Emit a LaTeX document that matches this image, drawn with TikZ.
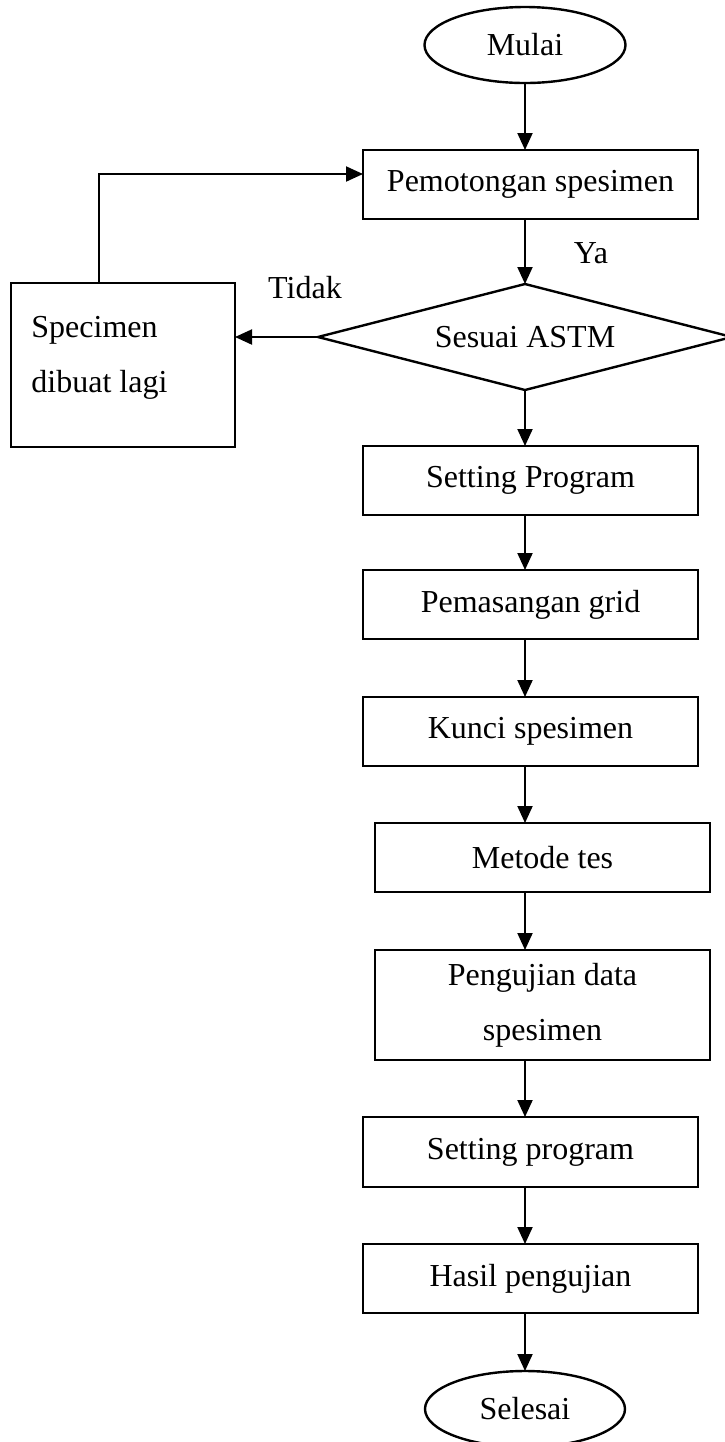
\documentclass[tikz,border=0pt]{standalone}
\usepackage{fontspec}
\setmainfont{Liberation Serif}
\usetikzlibrary{shapes.geometric,arrows.meta}
\begin{document}
\begin{tikzpicture}[x=0.5pt,y=-0.5pt,
  every node/.style={font=\fontsize{16}{27.5}\selectfont},
  line/.style={line width=1.2pt},
  arr/.style={line width=1pt, -{Triangle[width=7.5pt,length=8.5pt]}},
  stepbox/.style={draw, line, rectangle, minimum width=167.5pt, minimum height=34.5pt, inner sep=0pt, outer sep=0pt},
  terminal/.style={draw, line, ellipse, minimum width=100.5pt, minimum height=38pt, inner sep=0pt, outer sep=0pt},
  decision/.style={draw, line, diamond, aspect=3.9, minimum width=207pt, minimum height=53pt, inner sep=0pt, outer sep=0pt},
  label/.style={inner sep=0pt}]
\useasboundingbox (0,0) rectangle (724,1442);
\coordinate (axis) at (525,0);

% main column
\node[terminal] (mulai) at (525,45) {Mulai};
\node[stepbox] (pot) at (530.5,184.5) {Pemotongan spesimen};
\node[decision] (dia) at (525,337) {Sesuai ASTM};
\node[stepbox] (sp1) at (530.5,480.5) {Setting Program};
\node[stepbox] (grid) at (530.5,604.5) {Pemasangan grid};
\node[stepbox] (kunci) at (530.5,731.5) {Kunci spesimen};
\node[stepbox] (metode) at (542.5,857.5) {Metode tes};
\node[stepbox, minimum height=55pt, align=center] (uji) at (542.5,1005) {Pengujian data\\spesimen};
\node[stepbox, minimum height=35pt] (sp2) at (530.5,1152) {Setting program};
\node[stepbox] (hasil) at (530.5,1278.5) {Hasil pengujian};
\node[terminal, minimum width=100pt] (selesai) at (525,1409) {Selesai};

% rejected specimen branch
\node[draw, line, rectangle, minimum width=112pt, minimum height=82pt, inner sep=0pt, outer sep=0pt] (ulang) at (123,365) {};
\node[label, anchor=west, align=left] (ulangtxt) at (31,357.5) {Specimen\\dibuat lagi};

% branch labels
\node[label] (ya) at (591,253) {Ya};
\node[label] (tidak) at (305,288) {Tidak};

% connectors
\draw[arr] (mulai) -- (mulai |- pot.north);
\draw[arr] (pot.south -| axis) -- (dia.north);
\draw[arr] (dia.south) -- (sp1.north -| axis);
\draw[arr] (sp1.south -| axis) -- (grid.north -| axis);
\draw[arr] (grid.south -| axis) -- (kunci.north -| axis);
\draw[arr] (kunci.south -| axis) -- (metode.north -| axis);
\draw[arr] (metode.south -| axis) -- (uji.north -| axis);
\draw[arr] (uji.south -| axis) -- (sp2.north -| axis);
\draw[arr] (sp2.south -| axis) -- (hasil.north -| axis);
\draw[arr] (hasil.south -| axis) -- (selesai.north);
\draw[arr] (dia.west) -- (dia.west -| ulang.east);
\coordinate (fb) at (99,174);
\draw[arr] (ulang.north -| fb) -- (fb) -- (pot.west |- fb);
\end{tikzpicture}
\end{document}
